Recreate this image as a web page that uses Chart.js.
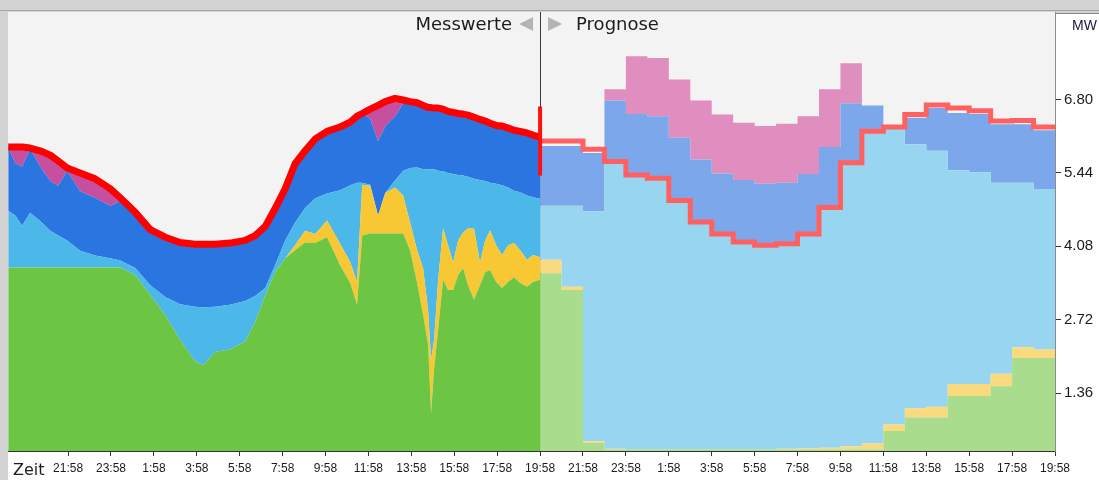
<!DOCTYPE html>
<html>
<head>
<meta charset="utf-8">
<title>Messwerte / Prognose</title>
<script src="https://cdn.jsdelivr.net/npm/chart.js"></script>
<style>
  html, body { margin: 0; padding: 0; background: #ffffff; }
  #chart { display: block; }
</style>
</head>
<body>
<canvas id="chart" width="1099" height="480"></canvas>
<script>
// hours relative to "now" (19:58); negative = Messwerte, positive = Prognose
const measHours = [-24.79, -24.46, -24.14, -23.77, -23.30, -22.83, -22.46, -22.04, -21.44, -20.74,
    -20.04, -19.57, -18.87, -18.17, -17.47, -16.78, -16.08, -15.70, -15.14, -14.45,
    -13.75, -13.28, -12.81, -12.35, -11.88, -11.42, -10.95, -10.48, -9.93, -9.32,
    -8.85, -8.53, -8.29, -7.92, -7.55, -7.22, -6.76, -6.38, -6.06, -5.73,
    -5.45, -5.22, -5.08, -4.94, -4.75, -4.52, -4.29, -4.05, -3.82, -3.59,
    -3.36, -3.08, -2.80, -2.56, -2.33, -2.05, -1.77, -1.49, -1.21, -0.93,
    -0.61, -0.33, 0];

// measured MW per source (stacked bottom -> top)
const measGreen = [3.69, 3.69, 3.69, 3.69, 3.69, 3.69, 3.69, 3.69, 3.69, 3.69,
    3.69, 3.69, 3.55, 3.18, 2.81, 2.35, 1.95, 1.88, 2.13, 2.17,
    2.32, 2.68, 3.18, 3.60, 3.86, 4.01, 4.15, 4.14, 4.25, 3.73,
    3.40, 3.00, 4.28, 4.32, 4.32, 4.32, 4.32, 4.32, 4.01, 3.40,
    2.81, 2.26, 0.99, 1.80, 2.54, 3.46, 3.27, 3.27, 3.55, 3.68,
    3.36, 3.09, 3.36, 3.60, 3.64, 3.42, 3.31, 3.42, 3.51, 3.40,
    3.33, 3.42, 3.46];
const measYellow = [0, 0, 0, 0, 0, 0, 0, 0, 0, 0,
    0, 0, 0, 0, 0, 0, 0, 0, 0, 0,
    0, 0, 0, 0, 0, 0.09, 0.22, 0.17, 0.31, 0.40,
    0.39, 0.42, 0.94, 0.88, 0.33, 0.75, 0.85, 0.70, 0.51, 0.61,
    0.86, 0.64, 0.99, 0.55, 0.92, 0.96, 0.83, 0.51, 0.64, 0.66,
    1.05, 1.32, 0.42, 0.59, 0.74, 0.68, 0.61, 0.68, 0.63, 0.61,
    0.50, 0.50, 0.42];
const measLightBlue = [1.05, 0.96, 0.77, 1.01, 0.86, 0.68, 0.59, 0.50, 0.31, 0.22,
    0.17, 0.13, 0.13, 0.18, 0.33, 0.66, 1.01, 1.07, 0.83, 0.83,
    0.75, 0.48, 0.13, 0.13, 0.33, 0.42, 0.42, 0.66, 0.50, 0.99,
    1.42, 1.84, 0.04, 0.02, 0, 0, 0.13, 0.46, 1.01, 1.53,
    1.84, 2.61, 3.53, 3.16, 2.02, 1.05, 1.34, 1.64, 1.21, 1.05,
    0.96, 0.92, 1.53, 1.10, 0.88, 1.14, 1.29, 1.07, 0.97, 1.07,
    1.19, 1.07, 1.08];
const measBlue = [1.18, 0.97, 1.10, 1.19, 1.01, 0.92, 0.92, 1.29, 1.10, 1.07,
    0.97, 1.10, 1.03, 1.03, 1.10, 1.14, 1.16, 1.18, 1.16, 1.14,
    1.12, 1.12, 1.14, 1.05, 0.96, 1.08, 1.05, 1.10, 1.16, 1.16,
    1.18, 1.23, 1.29, 1.23, 1.38, 1.23, 1.19, 1.25, 1.19, 1.18,
    1.18, 1.14, 1.14, 1.12, 1.16, 1.16, 1.14, 1.14, 1.14, 1.14,
    1.14, 1.14, 1.12, 1.10, 1.10, 1.08, 1.10, 1.10, 1.12, 1.14,
    1.16, 1.16, 1.14];
const measPink = [0, 0.29, 0.35, 0, 0.28, 0.48, 0.46, 0.06, 0.33, 0.35,
    0.31, 0.06, 0, 0, 0, 0, 0, 0, 0, 0,
    0, 0, 0, 0, 0, 0, 0, 0, 0, 0,
    0, 0, 0, 0.18, 0.66, 0.44, 0.31, 0.04, 0, 0,
    0, 0, 0, 0, 0, 0, 0, 0, 0, 0,
    0, 0, 0, 0, 0, 0, 0, 0, 0, 0,
    0, 0, 0];
const measTotal = [5.92, 5.92, 5.92, 5.90, 5.85, 5.77, 5.66, 5.53, 5.44, 5.33,
    5.15, 4.98, 4.71, 4.39, 4.25, 4.15, 4.12, 4.12, 4.12, 4.14,
    4.19, 4.28, 4.45, 4.78, 5.15, 5.61, 5.85, 6.07, 6.21, 6.29,
    6.38, 6.49, 6.54, 6.62, 6.69, 6.76, 6.82, 6.79, 6.76, 6.74,
    6.69, 6.65, 6.65, 6.64, 6.64, 6.62, 6.58, 6.56, 6.54, 6.53,
    6.51, 6.47, 6.43, 6.40, 6.36, 6.32, 6.31, 6.27, 6.23, 6.21,
    6.18, 6.14, 6.10];

// forecast, one value per hour starting at "now"
const fcHours = [0, 1, 2, 3, 4, 5, 6, 7, 8, 9, 10, 11, 12, 13, 14, 15, 16, 17, 18, 19, 20, 21, 22, 23];
const fcGreen = [3.58, 3.27, 0.44, 0.32, 0.32, 0.32, 0.32, 0.32, 0.32, 0.32, 0.32, 0.32,
    0.32, 0.32, 0.32, 0.32, 0.66, 0.91, 0.91, 1.31, 1.31, 1.49, 2.01, 2.01];
const fcYellow = [0.25, 0.06, 0.03, 0.01, 0, 0, 0, 0, 0, 0, 0, 0.01,
    0.02, 0.03, 0.06, 0.11, 0.12, 0.17, 0.20, 0.22, 0.22, 0.23, 0.20, 0.16];
const fcLightBlue = [1.00, 1.50, 4.26, 5.32, 5.08, 5.02, 4.61, 4.21, 3.99, 3.84, 3.78, 3.80,
    3.97, 4.45, 5.25, 5.78, 5.49, 4.89, 4.74, 3.96, 3.92, 3.54, 3.05, 2.97];
const fcBlue = [1.11, 1.11, 1.08, 1.13, 1.13, 1.15, 1.16, 1.16, 1.12, 1.15, 1.14, 1.13,
    1.11, 1.12, 1.10, 0.48, 0.02, 0.49, 0.79, 1.06, 1.08, 1.08, 1.08, 1.09];
const fcPink = [0, 0, 0, 0.21, 1.07, 1.08, 1.08, 1.09, 1.09, 1.06, 1.07, 1.09,
    1.07, 1.07, 0.74, 0, 0, 0, 0, 0, 0, 0, 0, 0];
const fcTotal = [6.03, 6.03, 5.88, 5.65, 5.40, 5.34, 4.93, 4.53, 4.31, 4.16, 4.10, 4.13,
    4.31, 4.80, 5.63, 6.21, 6.29, 6.52, 6.70, 6.64, 6.59, 6.40, 6.41, 6.29];

// red marker at the "now" line (low, high)
const nowMark = [5.39, 6.67];

const tickHours = [-22, -20, -18, -16, -14, -12, -10, -8, -6, -4, -2, 0, 2, 4, 6, 8, 10, 12, 14, 16, 18, 20, 22, 24];
const tickLabels = ['21:58', '23:58', '1:58', '3:58', '5:58', '7:58', '9:58', '11:58', '13:58', '15:58', '17:58', '19:58',
    '21:58', '23:58', '1:58', '3:58', '5:58', '7:58', '9:58', '11:58', '13:58', '15:58', '17:58', '19:58'];
const mwTicks = [1.36, 2.72, 4.08, 5.44, 6.80];

function measSeries(values) {
    return measHours.map((h, i) => ({x: h, y: values[i]}));
}

function fcSeries(values) {
    let pts = fcHours.map((h, i) => ({x: h, y: values[i]}));
    // hold the last hour until the end of the forecast
    pts.push({x: fcHours[fcHours.length - 1] + 1, y: values[values.length - 1]});
    return pts;
}

function area(values, color, fill, group, stepped) {
    return {
        data: group === 'meas' ? measSeries(values) : fcSeries(values),
        backgroundColor: color,
        borderWidth: 0,
        pointRadius: 0,
        fill: fill,
        stack: group,
        stepped: stepped,
        tension: 0,
        order: 1
    };
}

const frame = {
    id: 'frame',
    beforeDraw(chart) {
        const {ctx, chartArea: a, width, height} = chart;
        ctx.save();
        ctx.fillStyle = '#d2d2d2';
        ctx.fillRect(0, 0, width, height);
        ctx.fillStyle = '#ffffff';
        ctx.fillRect(a.left, a.bottom, width - a.left, height - a.bottom);
        ctx.fillRect(a.right, a.top + 2, width - a.right, a.bottom - a.top - 2);
        ctx.fillStyle = '#a6a6a6';
        ctx.fillRect(0, a.top - 2, width, 1);
        ctx.fillStyle = '#8c8c8c';
        ctx.fillRect(a.right, a.top + 1, width - a.right, 1);
        ctx.fillStyle = '#f3f3f3';
        ctx.fillRect(a.left, a.top, a.right - a.left, a.bottom - a.top);
        ctx.restore();
    },
    beforeDatasetsDraw(chart) {
        const {ctx, chartArea: a} = chart;
        const x0 = Math.round(chart.scales.x.getPixelForValue(0)) + 0.5;
        ctx.save();
        ctx.strokeStyle = '#3a3a3a';
        ctx.lineWidth = 1;
        ctx.beginPath();
        ctx.moveTo(x0, a.top);
        ctx.lineTo(x0, a.bottom);
        ctx.stroke();
        ctx.restore();
    },
    afterDraw(chart) {
        const {ctx, chartArea: a} = chart;
        const x0 = chart.scales.x.getPixelForValue(0);
        ctx.save();
        ctx.fillStyle = '#1c1c1c';
        ctx.font = '18px "DejaVu Sans"';
        ctx.textBaseline = 'alphabetic';
        ctx.textAlign = 'right';
        ctx.fillText('Messwerte', x0 - 28, 30);
        ctx.textAlign = 'left';
        ctx.fillText('Prognose', x0 + 36, 30);

        ctx.fillStyle = '#b4b4b4';
        ctx.beginPath();
        ctx.moveTo(x0 - 21, 24);
        ctx.lineTo(x0 - 7, 17);
        ctx.lineTo(x0 - 7, 31);
        ctx.closePath();
        ctx.fill();
        ctx.beginPath();
        ctx.moveTo(x0 + 8, 17);
        ctx.lineTo(x0 + 8, 31);
        ctx.lineTo(x0 + 22, 24);
        ctx.closePath();
        ctx.fill();

        ctx.fillStyle = '#1c1c1c';
        ctx.font = '16px "DejaVu Sans"';
        ctx.fillText('Zeit', 13, 475);
        ctx.fillStyle = '#1a1a3a';
        ctx.font = '14px "Liberation Sans"';
        ctx.fillText('MW', a.right + 17, 30);
        ctx.restore();
    }
};

new Chart(document.getElementById('chart'), {
    type: 'line',
    data: {
        datasets: [
            area(measGreen, '#6cc644', 'start', 'meas', false),
            area(measYellow, '#f7c834', '-1', 'meas', false),
            area(measLightBlue, '#4cb7e9', '-1', 'meas', false),
            area(measBlue, '#2a75df', '-1', 'meas', false),
            area(measPink, '#c64fa0', '-1', 'meas', false),
            area(fcGreen, '#a9dd8d', 'start', 'fc', true),
            area(fcYellow, '#f9da7e', '-1', 'fc', true),
            area(fcLightBlue, '#97d5f1', '-1', 'fc', true),
            area(fcBlue, '#7ca8eb', '-1', 'fc', true),
            area(fcPink, '#e08ec0', '-1', 'fc', true),
            {
                data: measSeries(measTotal),
                borderColor: '#ff0000',
                borderWidth: 7,
                pointRadius: 0,
                fill: false,
                stack: 'measTotal',
                borderJoinStyle: 'round',
                borderCapStyle: 'butt',
                order: 0
            },
            {
                data: fcSeries(fcTotal),
                borderColor: '#ff6161',
                borderWidth: 5,
                pointRadius: 0,
                fill: false,
                stack: 'fcTotal',
                stepped: true,
                order: 0
            },
            {
                data: nowMark.map(v => ({x: 0, y: v})),
                borderColor: '#ff1010',
                borderWidth: 4,
                pointRadius: 0,
                fill: false,
                stack: 'now',
                order: -1
            }
        ]
    },
    options: {
        responsive: false,
        animation: false,
        devicePixelRatio: 1,
        events: [],
        layout: {padding: {left: 8, top: 10, right: 0, bottom: 0}},
        plugins: {legend: {display: false}, tooltip: {enabled: false}},
        scales: {
            x: {
                type: 'linear',
                min: -24.8,
                max: 24,
                afterBuildTicks: (scale) => {
                    scale.ticks = tickHours.map(v => ({value: v}));
                },
                afterFit: (scale) => { scale.height = 29; },
                ticks: {
                    autoSkip: false,
                    maxRotation: 0,
                    padding: 5,
                    color: '#1c1c1c',
                    font: {family: '"Liberation Sans Narrow", "Liberation Sans"', size: 12},
                    callback: (v) => tickLabels[tickHours.indexOf(v)]
                },
                grid: {drawOnChartArea: false, drawTicks: true, tickLength: 5, tickColor: '#333333'},
                border: {display: true, color: '#333333'}
            },
            y: {
                position: 'right',
                stacked: true,
                min: 0.29,
                max: 8.42,
                afterBuildTicks: (scale) => {
                    scale.ticks = mwTicks.map(v => ({value: v}));
                },
                afterFit: (scale) => { scale.width = 44; },
                ticks: {
                    padding: 3,
                    color: '#1c1c1c',
                    font: {family: '"Liberation Sans"', size: 15},
                    callback: (v) => v.toFixed(2)
                },
                grid: {drawOnChartArea: false, drawTicks: true, tickLength: 6, tickColor: '#333333'},
                border: {display: true, color: '#8c8c8c'}
            }
        }
    },
    plugins: [frame]
});
</script>
</body>
</html>
